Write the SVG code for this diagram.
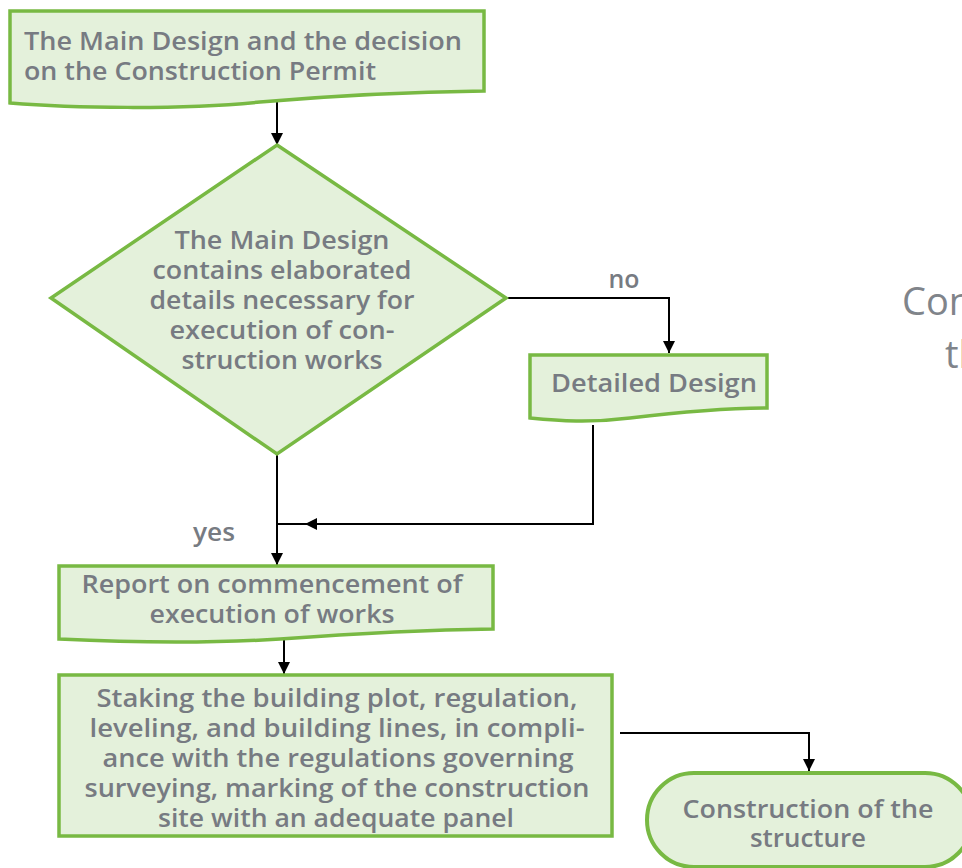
<svg xmlns="http://www.w3.org/2000/svg" width="962" height="868" viewBox="0 0 962 868">
  <style>
    .box { fill: #e4f1db; stroke: #78b943; stroke-width: 3.5; stroke-linejoin: miter; }
    .term { fill: #e4f1db; stroke: #78b943; stroke-width: 4; }
    .lbl { font-family: "Open Sans", "Liberation Sans", sans-serif; font-weight: 600; font-size: 26px; fill: #777b82; }
    .mid { text-anchor: middle; }
    .side { font-family: "Open Sans", "Liberation Sans", sans-serif; font-weight: 400; font-size: 38px; fill: #80848a; }
    .wire { fill: none; stroke: #000; stroke-width: 2; }
  </style>
  <defs>
    <marker id="arrow" viewBox="0 0 12 12" refX="12" refY="6" markerWidth="12" markerHeight="12" markerUnits="userSpaceOnUse" orient="auto">
      <path d="M0,0 L12,6 L0,12 Z" fill="#000"/>
    </marker>
  </defs>

  <rect width="962" height="868" fill="#ffffff"/>

  <!-- connectors -->
  <g id="connectors">
    <path class="wire" d="M277,101 V145" marker-end="url(#arrow)"/>
    <path class="wire" d="M508,298 H669 V353" marker-end="url(#arrow)"/>
    <path class="wire" d="M593,425 V524 H305" marker-end="url(#arrow)"/>
    <path class="wire" d="M305,524 H277"/>
    <path class="wire" d="M277,455 V565" marker-end="url(#arrow)"/>
    <path class="wire" d="M284,638 V674" marker-end="url(#arrow)"/>
    <path class="wire" d="M620,733 H809 V771" marker-end="url(#arrow)"/>
    <text class="lbl mid" x="624" y="288" textLength="31" lengthAdjust="spacingAndGlyphs">no</text>
    <text class="lbl mid" x="214" y="541" textLength="42" lengthAdjust="spacingAndGlyphs">yes</text>
  </g>

  <!-- main design document -->
  <g id="main-design">
    <path class="box" d="M10,11 H484 V91 C400,92 330,96 260,102 C180,110 70,108 10,103 Z"/>
    <text class="lbl" x="24" y="50" textLength="438" lengthAdjust="spacingAndGlyphs">The Main Design and the decision</text>
    <text class="lbl" x="24" y="80" textLength="352" lengthAdjust="spacingAndGlyphs">on the Construction Permit</text>
  </g>

  <!-- decision -->
  <g id="decision">
    <path class="box" d="M277,145 L506,298 L277,454 L51,298 Z"/>
    <text class="lbl mid" x="282" y="249" textLength="215" lengthAdjust="spacingAndGlyphs">The Main Design</text>
    <text class="lbl mid" x="282" y="279" textLength="259" lengthAdjust="spacingAndGlyphs">contains elaborated</text>
    <text class="lbl mid" x="282" y="309" textLength="265" lengthAdjust="spacingAndGlyphs">details necessary for</text>
    <text class="lbl mid" x="282" y="339" textLength="225" lengthAdjust="spacingAndGlyphs">execution of con-</text>
    <text class="lbl mid" x="282" y="369" textLength="201" lengthAdjust="spacingAndGlyphs">struction works</text>
  </g>

  <!-- detailed design document -->
  <g id="detailed-design">
    <path class="box" d="M530,355 H767 V408 C720,408 680,412 630,418 C590,423 560,421 530,418 Z"/>
    <text class="lbl" x="551" y="392" textLength="206" lengthAdjust="spacingAndGlyphs">Detailed Design</text>
  </g>

  <!-- report document -->
  <g id="report">
    <path class="box" d="M59,566 H493 V629 C420,630 350,634 280,639 C200,644 120,642 59,639 Z"/>
    <text class="lbl mid" x="272" y="593" textLength="381" lengthAdjust="spacingAndGlyphs">Report on commencement of</text>
    <text class="lbl mid" x="272" y="623" textLength="245" lengthAdjust="spacingAndGlyphs">execution of works</text>
  </g>

  <!-- staking process -->
  <g id="staking">
    <rect class="box" x="59" y="675" width="553" height="161"/>
    <text class="lbl mid" x="337" y="707" textLength="481" lengthAdjust="spacingAndGlyphs">Staking the building plot, regulation,</text>
    <text class="lbl mid" x="337" y="737" textLength="495" lengthAdjust="spacingAndGlyphs">leveling, and building lines, in compli-</text>
    <text class="lbl mid" x="338" y="767" textLength="471" lengthAdjust="spacingAndGlyphs">ance with the regulations governing</text>
    <text class="lbl mid" x="337" y="797" textLength="505" lengthAdjust="spacingAndGlyphs">surveying, marking of the construction</text>
    <text class="lbl mid" x="336" y="827" textLength="356" lengthAdjust="spacingAndGlyphs">site with an adequate panel</text>
  </g>

  <!-- terminal -->
  <g id="construction">
    <rect class="term" x="647" y="773" width="325" height="94" rx="47" ry="47"/>
    <text class="lbl mid" x="808" y="818" textLength="251" lengthAdjust="spacingAndGlyphs">Construction of the</text>
    <text class="lbl mid" x="808" y="847" textLength="116" lengthAdjust="spacingAndGlyphs">structure</text>
  </g>

  <!-- caption running past the right edge -->
  <g id="side-caption">
    <text class="side" x="902" y="315">Con</text>
    <text class="side" x="945" y="368">th</text>
  </g>
</svg>
